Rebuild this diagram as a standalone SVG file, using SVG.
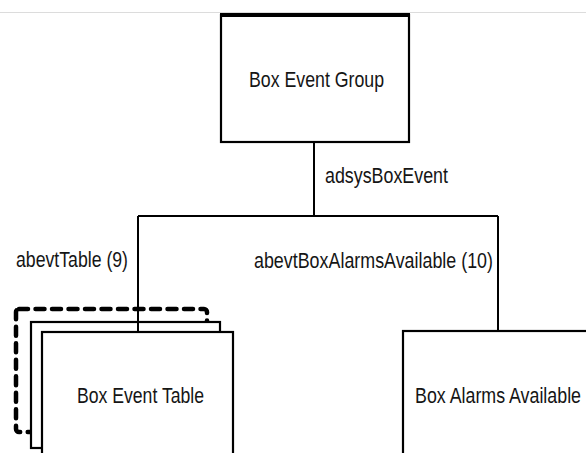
<svg xmlns="http://www.w3.org/2000/svg" width="586" height="453" viewBox="0 0 586 453">
<style>
.box{fill:#fff;stroke:#000;stroke-width:2.2}
.dash{fill:none;stroke:#000;stroke-width:4.5;stroke-dasharray:9 7.5;stroke-linecap:round;stroke-linejoin:round}
.conn{fill:none;stroke:#000;stroke-width:2}
text{font-family:"Liberation Sans",Arial,sans-serif;font-size:22.5px;fill:#151515}
</style>
<rect width="586" height="453" fill="#fff"/>
<line x1="0" y1="12.5" x2="586" y2="12.5" stroke="#dcdcdc" stroke-width="1"/>
<g id="box-event-group">
<rect class="box" x="221" y="15" width="188" height="127"/>
<line x1="220" y1="15" x2="410" y2="15" stroke="#000" stroke-width="4"/>
<text x="249" y="87" textLength="135" lengthAdjust="spacingAndGlyphs">Box Event Group</text>
</g>
<g id="box-event-table">
<rect class="dash" x="16" y="309" width="191" height="123" rx="3"/>
<rect class="box" x="31" y="322" width="189" height="126"/>
<rect class="box" x="42" y="332" width="191" height="140"/>
<text x="77" y="403" textLength="127" lengthAdjust="spacingAndGlyphs">Box Event Table</text>
</g>
<g id="box-alarms-available">
<rect class="box" x="403" y="331" width="192" height="140"/>
<text x="415" y="403" textLength="166" lengthAdjust="spacingAndGlyphs">Box Alarms Available</text>
</g>
<g id="connectors">
<path class="conn" d="M314 142V216M138 216H498M138 216V332M498 216V331"/>
<text x="325" y="183" textLength="123" lengthAdjust="spacingAndGlyphs">adsysBoxEvent</text>
<text x="16" y="267" textLength="112" lengthAdjust="spacingAndGlyphs">abevtTable (9)</text>
<text x="254" y="268" textLength="239" lengthAdjust="spacingAndGlyphs">abevtBoxAlarmsAvailable (10)</text>
</g>
</svg>
